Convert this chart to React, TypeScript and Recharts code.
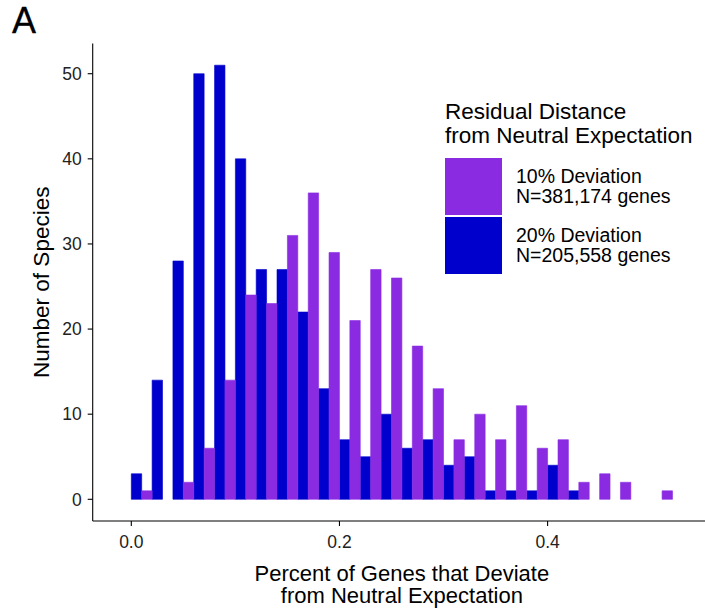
import React from "react";
import { BarChart, Bar, XAxis, YAxis, Legend } from "recharts";

// histogram bins, width 0.02, given by their midpoints
const binMid = [
  0.01, 0.03, 0.05, 0.07, 0.09, 0.11, 0.13, 0.15, 0.17, 0.19, 0.21, 0.23, 0.25,
  0.27, 0.29, 0.31, 0.33, 0.35, 0.37, 0.39, 0.41, 0.43, 0.45, 0.47, 0.49, 0.51,
];
const dev10 = [1, 0, 2, 6, 14, 24, 23, 31, 36, 29, 21, 27, 26, 18, 13, 7, 10, 7, 11, 6, 7, 2, 3, 2, 0, 1];
const dev20 = [3, 14, 28, 50, 51, 40, 27, 27, 22, 13, 7, 5, 10, 6, 7, 4, 5, 1, 1, 1, 4, 1, 0, 0, 0, 0];

const xTicks = [0, 0.2, 0.4];
const yTicks = [0, 10, 20, 30, 40, 50];

const PURPLE = "#8A2BE2";
const BLUE = "#0000CD";
const FONT = "'Liberation Sans', Arial, sans-serif";

const legendItems = [
  { color: PURPLE, line1: "10% Deviation", line2: "N=381,174 genes" },
  { color: BLUE, line1: "20% Deviation", line2: "N=205,558 genes" },
];

const rows = binMid.map((mid, i) => ({ mid, dev10: dev10[i], dev20: dev20[i] }));

function LegendBox() {
  return (
    <div style={{ fontFamily: FONT, color: "#000" }}>
      <div style={{ fontSize: 22.5, lineHeight: "24px", whiteSpace: "nowrap" }}>
        Residual Distance
        <br />
        from Neutral Expectation
      </div>
      <div style={{ marginTop: 10 }}>
        {legendItems.map((it) => (
          <div key={it.line1} style={{ display: "flex", alignItems: "center", marginBottom: 2 }}>
            <div style={{ width: 57, height: 57, background: it.color }} />
            <div style={{ marginLeft: 14, fontSize: 19.5, lineHeight: "20px", whiteSpace: "nowrap" }}>
              {it.line1}
              <br />
              {it.line2}
            </div>
          </div>
        ))}
      </div>
    </div>
  );
}

function XTitle(props: any) {
  const vb = props.viewBox;
  const cx = vb.x + vb.width / 2;
  return (
    <text x={cx} y={vb.y + 60} textAnchor="middle" fontSize={22} fontFamily={FONT} fill="#000">
      <tspan x={cx}>Percent of Genes that Deviate</tspan>
      <tspan x={cx} dy={22}>from Neutral Expectation</tspan>
    </text>
  );
}

function YTitle(props: any) {
  const vb = props.viewBox;
  const cx = vb.x + 41;
  const cy = vb.y + vb.height / 2;
  return (
    <text
      x={cx}
      y={cy}
      transform={`rotate(-90, ${cx}, ${cy})`}
      textAnchor="middle"
      dominantBaseline="central"
      fontSize={22.5}
      fontFamily={FONT}
      fill="#000"
    >
      Number of Species
    </text>
  );
}

export default function App() {
  return (
    <div style={{ position: "absolute", left: 0, top: 0, width: 705, height: 613, overflow: "hidden", background: "#fff" }}>
      <div
        style={{
          position: "absolute",
          left: 12,
          top: 3,
          fontFamily: FONT,
          fontSize: 36,
          lineHeight: "36px",
          color: "#000",
          WebkitTextStroke: "0.3px #000",
        }}
      >
        A
      </div>
      <BarChart
        width={720}
        height={613}
        data={rows}
        margin={{ top: 43.5, right: 9, left: 0, bottom: 0 }}
        barCategoryGap={0}
        barGap={0}
      >
        <XAxis xAxisId="bins" dataKey="mid" type="category" hide height={0} padding={{ left: 38.6, right: 38.5 }} />
        <XAxis
          xAxisId="num"
          dataKey="mid"
          type="number"
          domain={[-0.0371, 0.557]}
          allowDataOverflow
          ticks={xTicks}
          tickFormatter={(v: number) => v.toFixed(1)}
          height={92}
          stroke="#000"
          strokeWidth={1.1}
          tickSize={5}
          tickMargin={10}
          tick={{ fill: "#222", fontSize: 17.5, fontFamily: FONT }}
          label={XTitle}
        />
        <YAxis
          domain={[-2.55, 53.55]}
          allowDataOverflow
          ticks={yTicks}
          width={92.7}
          stroke="#000"
          strokeWidth={1.1}
          tickSize={5}
          tickMargin={6}
          tick={{ fill: "#222", fontSize: 17.5, fontFamily: FONT }}
          label={YTitle}
        />
        <Legend
          content={() => <LegendBox />}
          layout="horizontal"
          verticalAlign="middle"
          align="center"
          wrapperStyle={{ left: 445, top: 99.5, width: 270 }}
        />
        <Bar
          xAxisId="bins"
          dataKey="dev20"
          fill={BLUE}
          stroke={BLUE}
          strokeWidth={0.6}
          barSize={10.4}
          isAnimationActive={false}
        />
        <Bar
          xAxisId="bins"
          dataKey="dev10"
          fill={PURPLE}
          stroke={PURPLE}
          strokeWidth={0.6}
          barSize={10.4}
          isAnimationActive={false}
        />
      </BarChart>
    </div>
  );
}
